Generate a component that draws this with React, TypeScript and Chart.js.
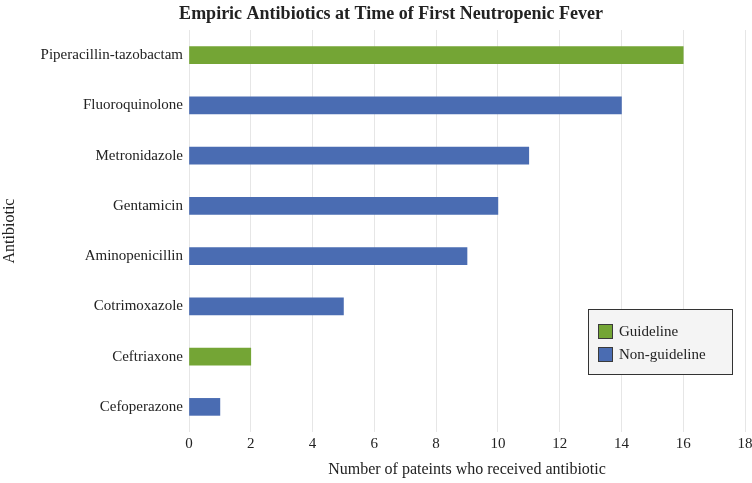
import { useEffect, useRef } from "react";
import { Chart, registerables, type ChartConfiguration, type Plugin } from "chart.js";

Chart.register(...registerables);

const drugs = [
  "Piperacillin-tazobactam",
  "Fluoroquinolone",
  "Metronidazole",
  "Gentamicin",
  "Aminopenicillin",
  "Cotrimoxazole",
  "Ceftriaxone",
  "Cefoperazone",
];
const guideline = [16, null, null, null, null, null, 2, null];
const nonGuideline = [null, 14, 11, 10, 9, 5, null, 1];
const xTicks = [0, 2, 4, 6, 8, 10, 12, 14, 16, 18];

const GREEN = "#74a535";
const BLUE = "#4a6cb2";
const FONT = "'Liberation Serif', 'Times New Roman', serif";

// title drawn by hand so it can sit a bit right of canvas centre like the original
const titlePlugin: Plugin<"bar"> = {
  id: "manualTitle",
  afterDraw(chart) {
    const ctx = chart.ctx;
    ctx.save();
    ctx.font = `bold 18px ${FONT}`;
    ctx.fillStyle = "#222";
    ctx.textAlign = "center";
    ctx.textBaseline = "middle";
    ctx.fillText("Empiric Antibiotics at Time of First Neutropenic Fever", 391, 14);
    ctx.restore();
  },
};

// boxed legend in the lower right of the plot
const legendBox: Plugin<"bar"> = {
  id: "legendBox",
  afterDraw(chart) {
    const ctx = chart.ctx;
    const x = 588;
    const y = 309;
    ctx.save();
    ctx.fillStyle = "#f4f4f4";
    ctx.fillRect(x, y, 144, 65);
    ctx.strokeStyle = "#333";
    ctx.lineWidth = 1;
    ctx.strokeRect(x + 0.5, y + 0.5, 144, 65);
    const items = chart.data.datasets.map((d) => ({
      label: d.label as string,
      fill: d.backgroundColor as string,
    }));
    ctx.font = `15px ${FONT}`;
    ctx.textBaseline = "middle";
    items.forEach((it, i) => {
      const sy = y + 15 + i * 23;
      ctx.fillStyle = it.fill;
      ctx.fillRect(x + 10, sy, 15, 15);
      ctx.strokeStyle = "#3a3a3a";
      ctx.strokeRect(x + 10.5, sy + 0.5, 14, 14);
      ctx.fillStyle = "#222";
      ctx.fillText(it.label, x + 31, sy + 8);
    });
    ctx.restore();
  },
};

function AntibioticChart() {
  const canvasRef = useRef<HTMLCanvasElement | null>(null);
  const chartRef = useRef<Chart | null>(null);

  useEffect(() => {
    const el = canvasRef.current;
    if (!el) return;
    chartRef.current?.destroy();

    const cfg: ChartConfiguration<"bar"> = {
      type: "bar",
      data: {
        labels: drugs,
        datasets: [
          {
            label: "Guideline",
            data: guideline,
            backgroundColor: GREEN,
            barThickness: 17,
            skipNull: true,
          },
          {
            label: "Non-guideline",
            data: nonGuideline,
            backgroundColor: BLUE,
            barThickness: 17,
            skipNull: true,
          },
        ],
      },
      options: {
        indexAxis: "y",
        animation: false,
        responsive: true,
        maintainAspectRatio: false,
        layout: { padding: { top: 30, right: 0, left: 0, bottom: 0 } },
        plugins: {
          legend: { display: false },
          title: { display: false },
          tooltip: { enabled: false },
        },
        scales: {
          x: {
            min: 0,
            max: 18,
            afterBuildTicks: (scale) => {
              scale.ticks = xTicks.map((v) => ({ value: v }));
            },
            afterFit: (scale) => {
              scale.height = 51;
              scale.paddingRight = 7;
            },
            grid: { color: "#e6e6e6", drawTicks: false },
            border: { display: false },
            ticks: { color: "#222", font: { family: FONT, size: 15 }, padding: 3 },
            title: {
              display: true,
              text: "Number of pateints who received antibiotic",
              color: "#222",
              font: { family: FONT, size: 16 },
              padding: { top: 4, bottom: 4 },
            },
          },
          y: {
            afterFit: (scale) => {
              scale.width = 189;
            },
            grid: { display: false, drawTicks: false },
            border: { display: false },
            ticks: { color: "#222", font: { family: FONT, size: 15 }, padding: 6 },
            title: {
              display: true,
              text: "Antibiotic",
              color: "#222",
              font: { family: FONT, size: 16 },
              padding: { top: 0, bottom: 0 },
            },
          },
        },
      },
      plugins: [titlePlugin, legendBox],
    };

    chartRef.current = new Chart(el, cfg);
    return () => {
      chartRef.current?.destroy();
      chartRef.current = null;
    };
  }, []);

  return <canvas ref={canvasRef} />;
}

export default function App() {
  useEffect(() => {
    document.body.style.margin = "0";
  }, []);
  return (
    <div style={{ width: 752, height: 483, position: "relative" }}>
      <AntibioticChart />
    </div>
  );
}
